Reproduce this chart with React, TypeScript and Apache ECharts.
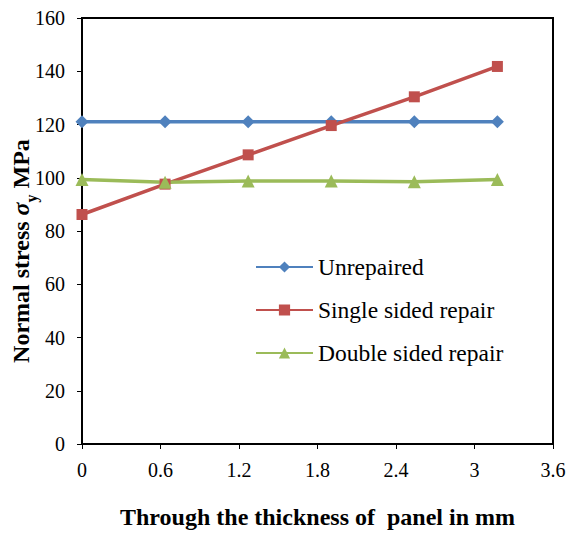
import React, { useEffect, useRef } from "react";
import * as echarts from "echarts";

const thickness = [0, 0.635, 1.27, 1.905, 2.54, 3.175];
const unrepaired = [121, 121, 121, 121, 121, 121];
const singleSided = [86.2, 97.6, 108.6, 119.6, 130.4, 141.8];
const doubleSided = [99.3, 98.3, 98.8, 98.8, 98.5, 99.3];
const seriesNames = ["Unrepaired", "Single sided repair", "Double sided repair"];

const FONT = "Liberation Serif";

export default function App() {
  const ref = useRef<HTMLDivElement>(null);
  useEffect(() => {
    document.body.style.margin = "0";
    const chart = echarts.init(ref.current!, null, { renderer: "svg" });
    const mk = (vals: number[]) => thickness.map((x, i) => [x, vals[i]]);
    chart.setOption({
      animation: false,
      backgroundColor: "#ffffff",
      textStyle: { fontFamily: FONT },
      grid: {
        left: 82,
        right: 15,
        top: 18,
        bottom: 89,
        show: true,
        borderColor: "#000",
        borderWidth: 2,
        outerBoundsMode: "none",
        containLabel: false,
      },
      legend: {
        orient: "vertical",
        left: 250,
        top: 250,
        padding: 5,
        itemGap: 19,
        itemWidth: 57,
        itemHeight: 14,
        textStyle: { fontFamily: FONT, fontSize: 23.5, color: "#000" },
        data: seriesNames,
      },
      xAxis: {
        type: "value",
        min: 0,
        max: 3.6,
        interval: 0.6,
        name: "Through the thickness of  panel in mm",
        nameLocation: "middle",
        nameGap: 61,
        nameMoveOverlap: false,
        nameTextStyle: { fontFamily: FONT, fontSize: 24, fontWeight: "bold", color: "#000" },
        axisLine: { show: true, onZero: false, lineStyle: { color: "#000", width: 2 } },
        axisTick: { show: true, length: 5, lineStyle: { color: "#000", width: 1 } },
        axisLabel: { fontFamily: FONT, fontSize: 20, color: "#000", margin: 16 },
        splitLine: { show: false },
      },
      yAxis: {
        type: "value",
        min: 0,
        max: 160,
        interval: 20,
        name: "{b|Normal stress }{s|σ}{sub|y}{b| MPa}",
        nameLocation: "middle",
        nameGap: 49,
        nameMoveOverlap: false,
        nameTextStyle: {
          padding: [0, 40, 0, 0],
          rich: {
            b: { fontFamily: FONT, fontSize: 24, fontWeight: "bold", color: "#000", verticalAlign: "bottom", lineHeight: 28 },
            s: { fontFamily: FONT, fontSize: 24, fontWeight: "bold", fontStyle: "italic", color: "#000", verticalAlign: "bottom", lineHeight: 28 },
            sub: { fontFamily: FONT, fontSize: 16, fontWeight: "bold", color: "#000", verticalAlign: "bottom", lineHeight: 28, padding: [0, 0, -6, 0] },
          },
        },
        axisLine: { show: true, lineStyle: { color: "#000", width: 2 } },
        axisTick: { show: true, length: 5, lineStyle: { color: "#000", width: 1 } },
        axisLabel: { fontFamily: FONT, fontSize: 20, color: "#000", margin: 17 },
        splitLine: { show: false },
      },
      series: [
        {
          name: seriesNames[0],
          type: "line",
          data: mk(unrepaired),
          symbol: "diamond",
          symbolSize: 13,
          itemStyle: { color: "#4F81BD" },
          lineStyle: { width: 3.5, color: "#4F81BD" },
        },
        {
          name: seriesNames[1],
          type: "line",
          data: mk(singleSided),
          symbol: "rect",
          symbolSize: 11,
          itemStyle: { color: "#C0504D" },
          lineStyle: { width: 3.5, color: "#C0504D" },
        },
        {
          name: seriesNames[2],
          type: "line",
          data: mk(doubleSided),
          symbol: "triangle",
          symbolSize: 13,
          itemStyle: { color: "#9BBB59" },
          lineStyle: { width: 3.5, color: "#9BBB59" },
        },
      ],
    });
    return () => chart.dispose();
  }, []);
  return <div ref={ref} style={{ width: 568, height: 533 }} />;
}
